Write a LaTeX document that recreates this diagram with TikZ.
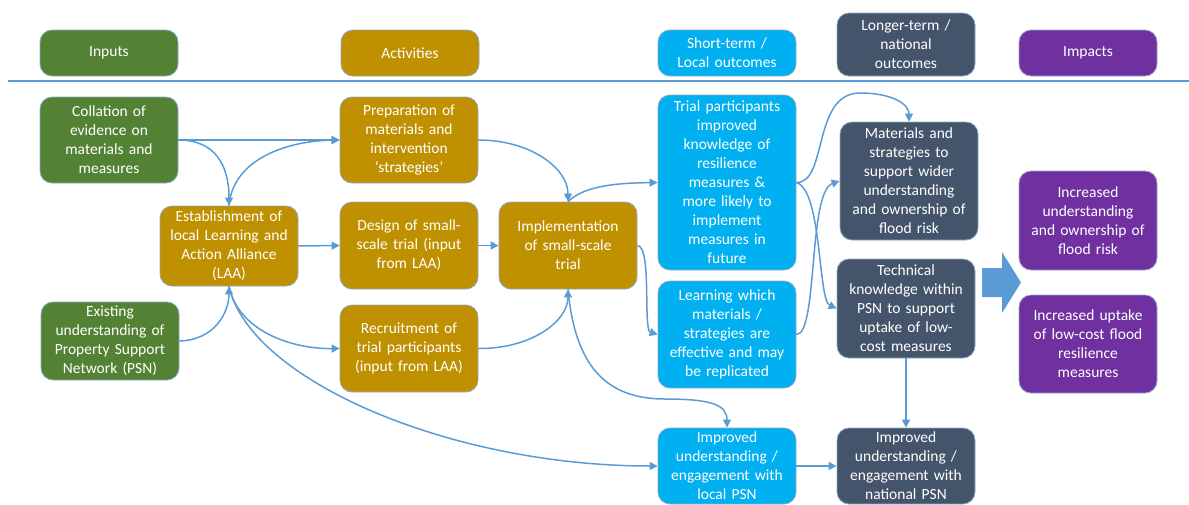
\documentclass[tikz,border=0pt]{standalone}
\usepackage{fontspec}
\setmainfont{Carlito}
\usetikzlibrary{arrows.meta}
\definecolor{cgreen}{HTML}{548235}
\definecolor{cgold}{HTML}{BF9000}
\definecolor{ccyan}{HTML}{00B0F0}
\definecolor{cdark}{HTML}{44546A}
\definecolor{cpurple}{HTML}{7030A0}
\definecolor{cborder}{HTML}{8FA9C4}
\definecolor{carrow}{HTML}{5B9BD5}
\tikzset{
  box/.style={draw=cborder, line width=0.8pt, rounded corners=12pt, text=white,
    text width=132pt, inner xsep=3pt, inner ysep=2pt, align=center,
    font=\fontsize{15.5}{19}\selectfont},
  conn/.style={draw=carrow, line width=1.5pt, -{Triangle[length=8pt,width=8pt]}},
}
\begin{document}
\begin{tikzpicture}[x=1pt,y=-1pt]
\useasboundingbox (0,0) rectangle (1189,504);
% header
\node[box, fill=cgreen, minimum height=46pt] (hin) at (109,53) {Inputs};
\node[box, fill=cgold, minimum height=46pt] (hact) at (410,53) {Activities};
\node[box, fill=ccyan, minimum height=46pt] (hshort) at (727,53) {Short-term /\\Local outcomes};
\node[box, fill=cdark, minimum height=63pt] (hlong) at (906,44.5) {Longer-term /\\national\\outcomes};
\node[box, fill=cpurple, minimum height=46pt] (himp) at (1088,53) {Impacts};
\coordinate (rl) at (8,81);
\coordinate (rr) at (1189,81);
\draw[carrow, line width=1.5pt] (rl) -- (rr);
% inputs
\node[box, fill=cgreen, minimum height=86pt] (coll) at (109,140) {Collation of\\evidence on\\materials and\\measures};
\node[box, fill=cgreen, minimum height=78pt] (exist) at (110,341) {Existing\\understanding of\\Property Support\\Network (PSN)};
% activities
\node[box, fill=cgold, minimum height=80pt] (est) at (229,246) {Establishment of\\local Learning and\\Action Alliance\\(LAA)};
\node[box, fill=cgold, minimum height=86pt] (prep) at (409,140) {Preparation of\\materials and\\intervention\\‘strategies’};
\node[box, fill=cgold, minimum height=87pt] (des) at (409,245.5) {Design of small-\\scale trial (input\\from LAA)};
\node[box, fill=cgold, minimum height=87pt] (recr) at (409,348.5) {Recruitment of\\trial participants\\(input from LAA)};
\node[box, fill=cgold, minimum height=87pt] (impl) at (568,245.5) {Implementation\\of small-scale\\trial};
% short-term
\node[box, fill=ccyan, minimum height=175pt] (trial) at (727,182.5) {Trial participants\\improved\\knowledge of\\resilience\\measures \&\\more likely to\\implement\\measures in\\future};
\node[box, fill=ccyan, minimum height=107pt] (learn) at (727,334.5) {Learning which\\materials /\\strategies are\\effective and may\\be replicated};
\node[box, fill=ccyan, minimum height=76pt] (local) at (727,466) {Improved\\understanding /\\engagement with\\local PSN};
% longer-term
\node[box, fill=cdark, minimum height=118pt] (mat) at (909,181) {Materials and\\strategies to\\support wider\\understanding\\and ownership of\\flood risk};
\node[box, fill=cdark, minimum height=99pt] (tech) at (906,308.5) {Technical\\knowledge within\\PSN to support\\uptake of low-\\cost measures};
\node[box, fill=cdark, minimum height=76pt] (nat) at (906,466) {Improved\\understanding /\\engagement with\\national PSN};
% impacts
\node[box, fill=cpurple, minimum height=99pt] (incu) at (1088,220.5) {Increased\\understanding\\and ownership of\\flood risk};
\node[box, fill=cpurple, minimum height=98pt] (incup) at (1088,344) {Increased uptake\\of low-cost flood\\resilience\\measures};
% big arrow
\fill[carrow] (982,268) -- (1002,268) -- (1002,252) -- (1021,282.5) -- (1002,313) -- (1002,297) -- (982,297) -- cycle;
% connectors
\draw[conn] (coll.east) -- (prep.west);
\draw[conn] (coll.east) .. controls (215,140) and (229,165) .. (est.north);
\draw[conn] (est.north) .. controls (233,160) and (285,141) .. (prep.west);
\draw[conn] (est.east) -- (des.west);
\draw[conn] (exist.east) .. controls (215,340) and (229,312) .. (est.south);
\draw[conn] (est.south) .. controls (238,330) and (290,349) .. (recr.west);
\draw[conn] (est.south) .. controls (250,380) and (450,466) .. (local.west);
\draw[conn] (prep.east) .. controls (530,140) and (568,168) .. (impl.north);
\draw[conn] (des.east) -- (impl.west);
\draw[conn] (recr.east) .. controls (530,349) and (568,322) .. (impl.south);
\draw[conn] (impl.north) .. controls (585,185) and (620,183) .. (trial.west);
\draw[conn] (impl.east) .. controls (652,246) and (643,330) .. (learn.west);
\coordinate (m13) at (665,399);
\draw[conn] (impl.south) .. controls (575,365) and (605,399) .. (m13) .. controls (712,399) and (727,405) .. (local.north);
\coordinate (m14) at (860,93);
\draw[conn] (trial.east) .. controls (828,183) and (812,93) .. (m14) .. controls (892,93) and (909,104) .. (mat.north);
\draw[conn] (trial.east) .. controls (822,190) and (818,300) .. (tech.west);
\draw[conn] (learn.east) .. controls (818,335) and (808,192) .. (mat.west);
\draw[conn] (tech.south) -- (nat.north);
\draw[conn] (local.east) -- (nat.west);
\end{tikzpicture}
\end{document}
